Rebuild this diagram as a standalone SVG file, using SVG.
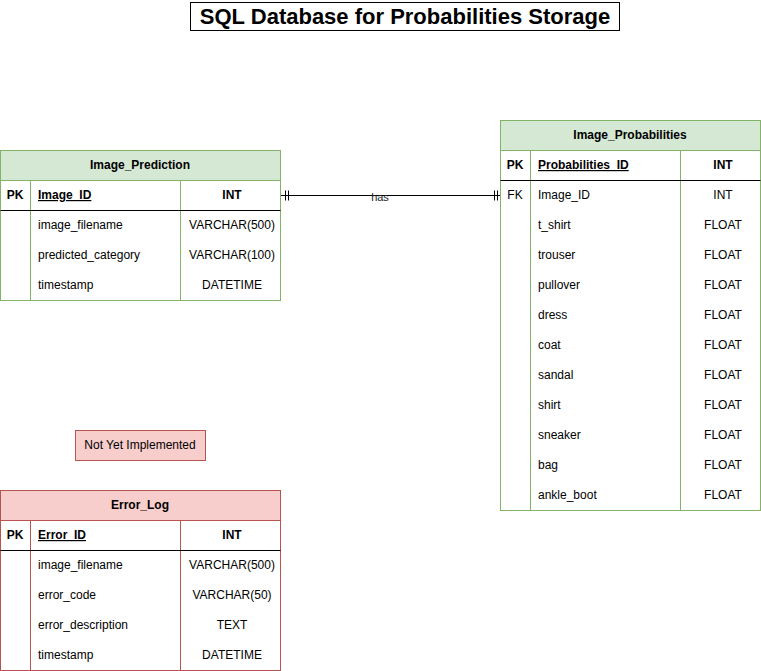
<svg xmlns="http://www.w3.org/2000/svg" width="761" height="671" viewBox="0 0 761 671">
<style>
text{font-family:"Liberation Sans",Arial,sans-serif;font-size:12px;fill:#000}
.b{font-weight:bold}
.u{text-decoration:underline}
.m{text-anchor:middle}
.g{fill:#d5e8d4;stroke:#82b366}
.gl{stroke:#82b366;fill:none}
.r{fill:#f8cecc;stroke:#b85450}
.rl{stroke:#b85450;fill:none}
.k{stroke:#000;fill:none}
</style>
<rect width="761" height="671" fill="#fff"/>
<g id="title">
<rect x="190.5" y="2.5" width="429" height="28" fill="#fff" stroke="#000"/>
<text x="405" y="23.5" class="b m" style="font-size:22px">SQL Database for Probabilities Storage</text>
</g>
<g id="connectors">
<path class="k" d="M281 195.5H500M285.5 190.5v10M288.5 190.5v10M494.5 190.5v10M497.5 190.5v10"/>
<text x="380" y="201" class="m" style="font-size:11px;fill:#222">has</text>
</g>
<g id="image_prediction">
<rect x="0.5" y="150.5" width="280" height="150" class="g" style="fill:#fff"/>
<rect x="0.5" y="150.5" width="280" height="30" class="g"/>
<path class="gl" d="M30.5 180.5V300.5M180.5 180.5V300.5"/>
<path class="k" d="M0.5 210.5H280.5"/>
<text x="140" y="169" class="b m">Image_Prediction</text>
<text x="15" y="199" class="b m">PK</text>
<text x="38" y="199" class="b u">Image_ID</text>
<text x="232" y="199" class="b m">INT</text>
<text x="38" y="229">image_filename</text>
<text x="232" y="229" class="m">VARCHAR(500)</text>
<text x="38" y="259">predicted_category</text>
<text x="232" y="259" class="m">VARCHAR(100)</text>
<text x="38" y="289">timestamp</text>
<text x="232" y="289" class="m">DATETIME</text>
</g>
<g id="image_probabilities">
<rect x="500.5" y="120.5" width="260" height="390" class="g" style="fill:#fff"/>
<rect x="500.5" y="120.5" width="260" height="30" class="g"/>
<path class="gl" d="M530.5 150.5V510.5M680.5 150.5V510.5"/>
<path class="k" d="M500.5 180.5H760.5"/>
<text x="630" y="139" class="b m">Image_Probabilities</text>
<text x="515" y="169" class="b m">PK</text>
<text x="538" y="169" class="b u">Probabilities_ID</text>
<text x="723" y="169" class="b m">INT</text>
<text x="515" y="199" class="m">FK</text>
<text x="538" y="199">Image_ID</text>
<text x="723" y="199" class="m">INT</text>
<text x="538" y="229">t_shirt</text><text x="723" y="229" class="m">FLOAT</text>
<text x="538" y="259">trouser</text><text x="723" y="259" class="m">FLOAT</text>
<text x="538" y="289">pullover</text><text x="723" y="289" class="m">FLOAT</text>
<text x="538" y="319">dress</text><text x="723" y="319" class="m">FLOAT</text>
<text x="538" y="349">coat</text><text x="723" y="349" class="m">FLOAT</text>
<text x="538" y="379">sandal</text><text x="723" y="379" class="m">FLOAT</text>
<text x="538" y="409">shirt</text><text x="723" y="409" class="m">FLOAT</text>
<text x="538" y="439">sneaker</text><text x="723" y="439" class="m">FLOAT</text>
<text x="538" y="469">bag</text><text x="723" y="469" class="m">FLOAT</text>
<text x="538" y="499">ankle_boot</text><text x="723" y="499" class="m">FLOAT</text>
</g>
<g id="not_yet_implemented">
<rect x="75.5" y="430.5" width="130" height="30" class="r"/>
<text x="140" y="449" class="m">Not Yet Implemented</text>
</g>
<g id="error_log">
<rect x="0.5" y="490.5" width="280" height="180" class="r" style="fill:#fff"/>
<rect x="0.5" y="490.5" width="280" height="30" class="r"/>
<path class="rl" d="M30.5 520.5V670.5M180.5 520.5V670.5"/>
<path class="k" d="M0.5 550.5H280.5"/>
<text x="140" y="509" class="b m">Error_Log</text>
<text x="15" y="539" class="b m">PK</text>
<text x="38" y="539" class="b u">Error_ID</text>
<text x="232" y="539" class="b m">INT</text>
<text x="38" y="569">image_filename</text>
<text x="232" y="569" class="m">VARCHAR(500)</text>
<text x="38" y="599">error_code</text>
<text x="232" y="599" class="m">VARCHAR(50)</text>
<text x="38" y="629">error_description</text>
<text x="232" y="629" class="m">TEXT</text>
<text x="38" y="659">timestamp</text>
<text x="232" y="659" class="m">DATETIME</text>
</g>
</svg>
